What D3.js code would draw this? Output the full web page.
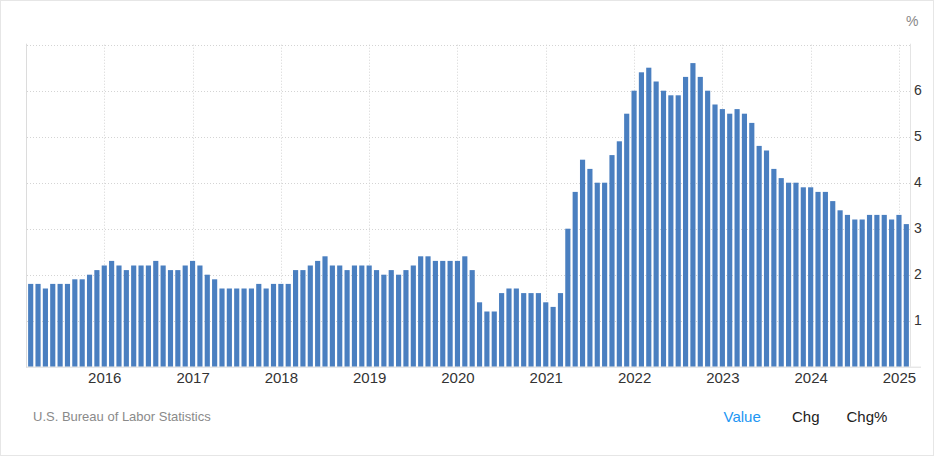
<!DOCTYPE html>
<html><head><meta charset="utf-8">
<script src="https://cdn.jsdelivr.net/npm/d3@7"></script>
<style>
html,body{margin:0;padding:0;background:#fff;}
svg{display:block;font-family:"Liberation Sans",Arial,Helvetica,sans-serif;}
</style></head>
<body>
<svg id="chart" width="936" height="458"></svg>
<script>
// Months: Mar 2015 .. Feb 2025 (US core CPI, YoY %)
const startYear = 2015, startMonth = 2; // March (0-based)
const values = [
  1.8,1.8,1.7,1.8,1.8,1.8,1.9,1.9,2.0,2.1,            // Mar-Dec 2015
  2.2,2.3,2.2,2.1,2.2,2.2,2.2,2.3,2.2,2.1,2.1,2.2,    // 2016
  2.3,2.2,2.0,1.9,1.7,1.7,1.7,1.7,1.7,1.8,1.7,1.8,    // 2017
  1.8,1.8,2.1,2.1,2.2,2.3,2.4,2.2,2.2,2.1,2.2,2.2,    // 2018
  2.2,2.1,2.0,2.1,2.0,2.1,2.2,2.4,2.4,2.3,2.3,2.3,    // 2019
  2.3,2.4,2.1,1.4,1.2,1.2,1.6,1.7,1.7,1.6,1.6,1.6,    // 2020
  1.4,1.3,1.6,3.0,3.8,4.5,4.3,4.0,4.0,4.6,4.9,5.5,    // 2021
  6.0,6.4,6.5,6.2,6.0,5.9,5.9,6.3,6.6,6.3,6.0,5.7,    // 2022
  5.6,5.5,5.6,5.5,5.3,4.8,4.7,4.3,4.1,4.0,4.0,3.9,    // 2023
  3.9,3.8,3.8,3.6,3.4,3.3,3.2,3.2,3.3,3.3,3.3,3.2,    // 2024
  3.3,3.1                                             // Jan-Feb 2025
];
const months = values.map((v,i)=>{
  const m = startMonth + i;
  return (startYear + Math.floor(m/12)) + "-" + String(m%12+1).padStart(2,"0");
});
const yearTicks = ["2016","2017","2018","2019","2020","2021","2022","2023","2024","2025"];
const yTicks = [1,2,3,4,5,6];
const sourceText = "U.S. Bureau of Labor Statistics";
const unitText = "%";
const tabs = ["Value","Chg","Chg%"];

const svg = d3.select("#chart");
const pLeft = 27, pRight = 910, pTop = 44.7, pBottom = 366.7;

const x = d3.scaleBand().domain(months).range([pLeft, pRight]).paddingInner(0.3).paddingOuter(0.15);
const y = d3.scaleLinear().domain([0, 7]).range([pBottom, pTop]);

// card border
svg.append("rect").attr("x",0.5).attr("y",0.5).attr("width",933).attr("height",455)
  .attr("fill","none").attr("stroke","#e6e6e6");

// horizontal gridlines (including top)
const g = svg.append("g");
g.selectAll("line.h").data(yTicks.concat([7])).join("line")
  .attr("x1", pLeft).attr("x2", pRight)
  .attr("y1", d=>Math.round(y(d))+0.5).attr("y2", d=>Math.round(y(d))+0.5)
  .attr("stroke","#d4d4d4").attr("stroke-dasharray","1,2");

// vertical gridlines at January of each year
const xc = yr => x(yr + "-01") + x.bandwidth()/2;
g.selectAll("line.v").data(yearTicks).join("line")
  .attr("x1", d=>Math.round(xc(d))+0.5).attr("x2", d=>Math.round(xc(d))+0.5)
  .attr("y1", pTop).attr("y2", pBottom)
  .attr("stroke","#d4d4d4").attr("stroke-dasharray","1,2");

// frame lines
svg.append("line").attr("x1",pLeft-0.5).attr("x2",pLeft-0.5).attr("y1",pTop-1).attr("y2",pBottom+1)
  .attr("stroke","#dcdcdc");
svg.append("line").attr("x1",pRight+0.5).attr("x2",pRight+0.5).attr("y1",pTop-1).attr("y2",pBottom)
  .attr("stroke","#e4e4e4");

// bars
svg.append("g").selectAll("rect").data(values).join("rect")
  .attr("x", (d,i)=>x(months[i]))
  .attr("width", x.bandwidth())
  .attr("y", d=>y(d))
  .attr("height", d=>pBottom - y(d))
  .attr("fill","#4a7fc0");

// baseline
svg.append("line").attr("x1",pLeft-1).attr("x2",921).attr("y1",pBottom+0.5).attr("y2",pBottom+0.5)
  .attr("stroke","#dcdcdc");

// x axis labels
const xAxis = d3.axisBottom(d3.scaleLinear().domain([pLeft,pRight]).range([pLeft,pRight]))
  .tickValues(yearTicks.map(xc)).tickSize(0).tickPadding(0)
  .tickFormat((d,i)=>yearTicks[i]);
const xa = svg.append("g").attr("transform",`translate(0,${pBottom+4})`).call(xAxis);
xa.select(".domain").remove();
xa.selectAll("text").attr("font-size",15).attr("fill","#333").attr("dy","0.8em")
  .style("font-family","'Liberation Sans',Arial,sans-serif");

// y axis labels (right)
const yAxis = d3.axisRight(y).tickValues(yTicks).tickSize(0).tickPadding(0).tickFormat(d3.format("d"));
const ya = svg.append("g").attr("transform",`translate(914,0)`).call(yAxis);
ya.select(".domain").remove();
ya.selectAll("text").attr("font-size",14).attr("fill","#333").attr("dy","0.3em")
  .style("font-family","'Liberation Sans',Arial,sans-serif");

// unit
svg.append("text").attr("x",906).attr("y",26).attr("font-size",14).attr("fill","#888").text(unitText);

// source
svg.append("text").attr("x",33).attr("y",421).attr("font-size",13).attr("fill","#8a8a8a").text(sourceText);

// tabs
const tabX = [723.5, 792, 846.5];
svg.selectAll("text.tab").data(tabs).join("text").attr("class","tab")
  .attr("x",(d,i)=>tabX[i]).attr("y",422).attr("font-size",15)
  .attr("fill",(d,i)=>i===0?"#2196f3":"#222").text(d=>d);
</script>
</body></html>
